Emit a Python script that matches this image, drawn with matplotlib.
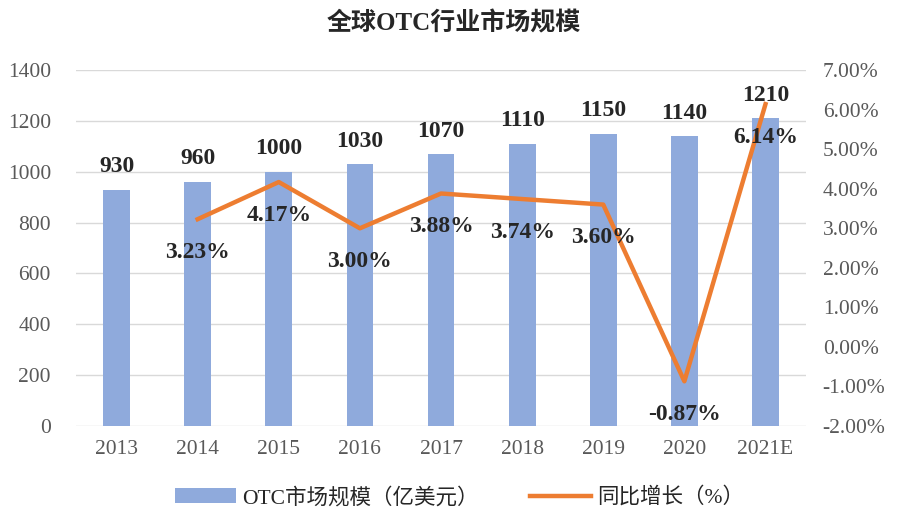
import matplotlib
matplotlib.use("Agg")
import matplotlib.pyplot as plt
import numpy as np

years = ["2013", "2014", "2015", "2016", "2017", "2018", "2019", "2020", "2021E"]
market = [930, 960, 1000, 1030, 1070, 1110, 1150, 1140, 1210]
growth_years = ["2014", "2015", "2016", "2017", "2018", "2019", "2020", "2021E"]
growth = [3.23, 4.17, 3.00, 3.88, 3.74, 3.60, -0.87, 6.14]
left_ticks = [0, 200, 400, 600, 800, 1000, 1200, 1400]
right_ticks = [-2, -1, 0, 1, 2, 3, 4, 5, 6, 7]

FAM = ["Liberation Serif", "Noto Sans CJK SC", "DejaVu Sans"]
plt.rcParams["font.family"] = FAM

bar_c = "#8FAADC"
line_c = "#ED7D31"
tick_c = "#595959"

fig = plt.figure(figsize=(8.98, 5.12), dpi=100)
ax = fig.add_axes([0.0846, 0.168, 0.8130, 0.695])
x = np.arange(len(years))
ax.bar(x, market, width=0.33, color=bar_c, zorder=2, label="OTC市场规模（亿美元）")
ax.set_ylim(0, 1400)
ax.set_yticks(left_ticks)
ax.set_xlim(-0.5, len(years) - 0.5)
ax.set_xticks(x)
ax.set_xticklabels(years)
ax.grid(axis="y", color="#D9D9D9", linewidth=1, zorder=0)
for s in ax.spines.values():
    s.set_visible(False)
ax.tick_params(axis="both", length=0, colors=tick_c, labelsize=15.5)
ax.tick_params(axis="x", pad=10)
ax.tick_params(axis="y", pad=18)

for xi, v in zip(x, market):
    ax.annotate(str(v), (xi, v), xytext=(0, 9), textcoords="offset points",
                ha="center", va="bottom", fontsize=17, fontweight="bold", color="#262626")

ax2 = ax.twinx()
gx = [years.index(g) for g in growth_years]
ax2.plot(gx, growth, color=line_c, linewidth=3.2, zorder=3, label="同比增长（%）")
ax2.set_ylim(-2, 7)
ax2.set_yticks(right_ticks)
ax2.set_yticklabels([f"{t:.2f}%" for t in right_ticks])
for s in ax2.spines.values():
    s.set_visible(False)
ax2.tick_params(axis="y", length=0, colors=tick_c, labelsize=15.5, pad=12)

for xi, v in zip(gx, growth):
    ax2.annotate(f"{v:.2f}%", (xi, v), xytext=(0, -24), textcoords="offset points",
                 ha="center", va="center", fontsize=17, fontweight="bold", color="#262626")

fig.text(0.505, 0.955, "全球OTC行业市场规模", ha="center", va="center",
         fontsize=18, fontweight="bold", color="#262626")

h1, l1 = ax.get_legend_handles_labels()
h2, l2 = ax2.get_legend_handles_labels()
fig.legend(h1 + h2, l1 + l2, loc="center", bbox_to_anchor=(0.512, 0.028), ncol=2,
           frameon=False, fontsize=15.5, handlelength=2.8, handleheight=0.7,
           columnspacing=2.4, handletextpad=0.3, labelcolor="#262626")

fig.savefig("out.png", dpi=100)
